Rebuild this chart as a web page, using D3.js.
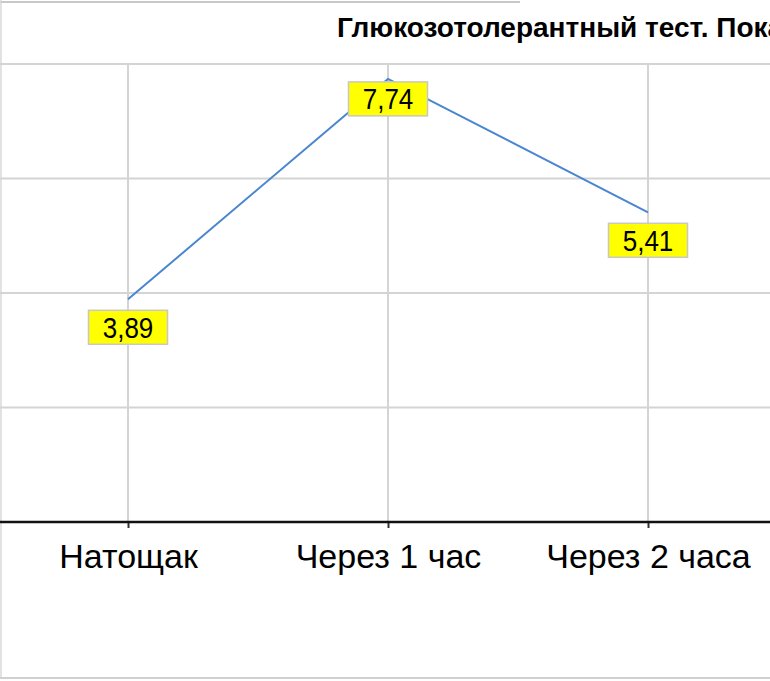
<!DOCTYPE html>
<html><head><meta charset="utf-8">
<script src="https://cdn.jsdelivr.net/npm/d3@7"></script>
<style>html,body{margin:0;padding:0;background:#fff;overflow:hidden}svg{display:block}</style>
</head><body>
<script>
const categories = ["Натощак", "Через 1 час", "Через 2 часа"];
const values = [3.89, 7.74, 5.41];
const valueLabels = ["3,89", "7,74", "5,41"];
const yTicks = [0, 2, 4, 6, 8];
const title = "Глюкозотолерантный тест. Показатели";

const W = 770, H = 681;
const FONT = "Liberation Sans, Arial, sans-serif";
const svg = d3.select("body").append("svg").attr("width", W).attr("height", H);
svg.append("rect").attr("width", W).attr("height", H).attr("fill", "#fff");

// outer frame (cropped chart border)
svg.append("line").attr("x1", 0).attr("x2", 520).attr("y1", 2).attr("y2", 2).attr("stroke", "#c8c8c8").attr("stroke-width", 2);
svg.append("line").attr("x1", 1).attr("x2", 1).attr("y1", 0).attr("y2", 679).attr("stroke", "#d8d8d8").attr("stroke-width", 1.5);
svg.append("line").attr("x1", 0).attr("x2", W).attr("y1", 678).attr("y2", 678).attr("stroke", "#d0d0d0").attr("stroke-width", 2);

const x = d3.scalePoint().domain(categories).range([128, 648]);
const y = d3.scaleLinear().domain([0, 8]).range([522, 64]);

// horizontal gridlines
svg.append("g").selectAll("line").data(yTicks.filter(d => d > 0)).join("line")
  .attr("x1", 0).attr("x2", W).attr("y1", d => y(d)).attr("y2", d => y(d))
  .attr("stroke", "#d4d4d4").attr("stroke-width", 2);
// vertical gridlines
svg.append("g").selectAll("line").data(categories).join("line")
  .attr("x1", d => x(d)).attr("x2", d => x(d)).attr("y1", y(8)).attr("y2", y(0))
  .attr("stroke", "#d4d4d4").attr("stroke-width", 2);

// x axis
const xAxis = svg.append("g").attr("transform", `translate(0,${y(0)})`)
  .call(d3.axisBottom(x).tickSize(6).tickPadding(16));
xAxis.select(".domain").remove();
xAxis.selectAll(".tick line").attr("stroke", "#333").attr("stroke-width", 2);
xAxis.selectAll(".tick text").attr("font-family", FONT).attr("font-size", 34).attr("fill", "#000");
svg.append("line").attr("x1", 0).attr("x2", W).attr("y1", y(0)).attr("y2", y(0))
  .attr("stroke", "#111").attr("stroke-width", 2.5);

// line
const line = d3.line().x((d, i) => x(categories[i])).y(d => y(d));
svg.append("path").datum(values).attr("d", line).attr("fill", "none")
  .attr("stroke", "#4a86d0").attr("stroke-width", 2);

// data labels (below points; the peak label sits a bit closer)
const labelGap = 28, peakGap = 20;
const maxV = d3.max(values);
const lab = svg.append("g").selectAll("g").data(values).join("g")
  .attr("transform", (d, i) => `translate(${x(categories[i])},${y(d) + (d === maxV ? peakGap : labelGap)})`);
lab.append("rect").attr("x", -39.5).attr("y", -17).attr("width", 79).attr("height", 34)
  .attr("fill", "#ffff00").attr("stroke", "#c8c8c8").attr("stroke-width", 1.5);
lab.append("text").text((d, i) => valueLabels[i]).attr("text-anchor", "middle").attr("dy", "0.36em")
  .attr("font-family", FONT).attr("font-size", 26).attr("fill", "#000")
  .attr("transform", "scale(1,1.12)");

// title
svg.append("text").attr("x", 337).attr("y", 37).text(title)
  .attr("font-family", FONT).attr("font-weight", "bold")
  .attr("font-size", 28).attr("fill", "#000");
</script>
</body></html>
